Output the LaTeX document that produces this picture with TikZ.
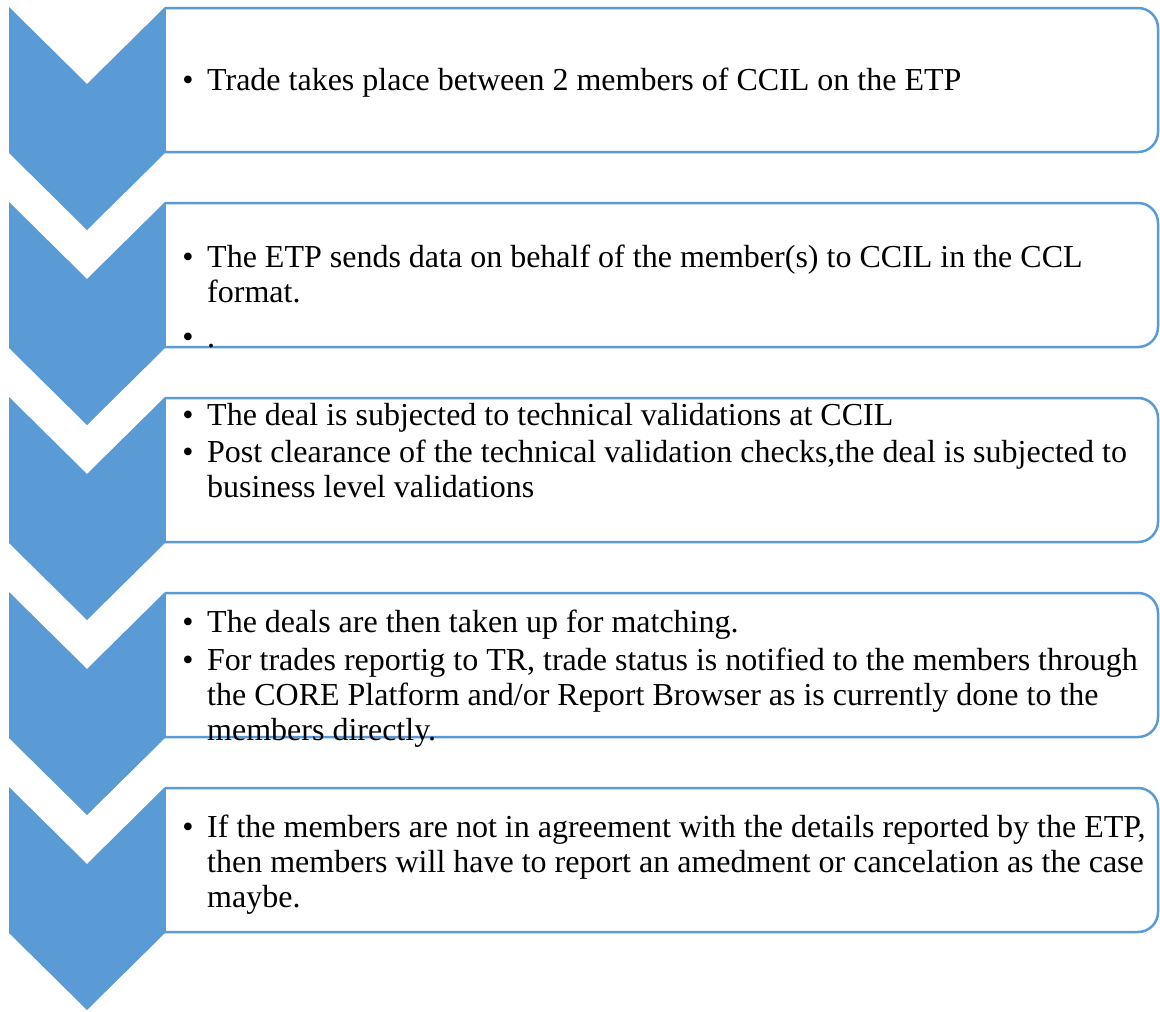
\documentclass[tikz,border=0pt]{standalone}
\usepackage{fontspec}
\setmainfont{Liberation Serif}
\definecolor{chevblue}{HTML}{5B9BD5}
\begin{document}
\begin{tikzpicture}[x=1pt,y=-1pt,
  chevron/.style={fill=chevblue,draw=none},
  boxline/.style={draw=chevblue,line width=2.5pt},
  txt/.style={anchor=base west,inner sep=0pt,font=\fontsize{32}{35}\selectfont},
  bul/.style={anchor=base,inner sep=0pt,font=\fontsize{32}{35}\selectfont}]
\useasboundingbox[fill=white] (0,0) rectangle (1160,1012);
% chevrons and boxes
\foreach \i in {0,...,4}{
  \pgfmathsetmacro{\T}{7+195*\i}
  \fill[chevron] (9,\T) -- (87,\T+77) -- (165,\T) -- (165,\T+146) -- (87,\T+223) -- (9,\T+146) -- cycle;
  \draw[boxline,rounded corners=20pt] (165,\T+145) -- (1158,\T+145) -- (1158,\T+1) -- (165,\T+1);
  \draw[boxline] (165,\T+1) -- (165,\T+145);
}
% box 1
\node[bul] (b1a) at (188,90) {•};
\node[txt] (t1a) at (207,90) {Trade takes place between 2 members of CCIL on the ETP};
% box 2
\node[bul] (b2a) at (188,267) {•};
\node[txt] (t2a) at (207,267) {The ETP sends data on behalf of the member(s) to CCIL in the CCL};
\node[txt] (t2b) at (207,302) {format.};
\node[bul] (b2b) at (188,347) {•};
\node[txt] (t2c) at (207,347) {.};
% box 3
\node[bul] (b3a) at (188,425) {•};
\node[txt] (t3a) at (207,425) {The deal is subjected to technical validations at CCIL};
\node[bul] (b3b) at (188,462) {•};
\node[txt] (t3b) at (207,462) {Post clearance of the technical validation checks,the deal is subjected to};
\node[txt] (t3c) at (207,497) {business level validations};
% box 4
\node[bul] (b4a) at (188,632) {•};
\node[txt] (t4a) at (207,632) {The deals are then taken up for matching.};
\node[bul] (b4b) at (188,670) {•};
\node[txt] (t4b) at (207,670) {For trades reportig to TR, trade status is notified to the members through};
\node[txt] (t4c) at (207,705) {the CORE Platform and/or Report Browser as is currently done to the};
\node[txt] (t4d) at (207,740) {members directly.};
% box 5
\node[bul] (b5a) at (188,837) {•};
\node[txt] (t5a) at (207,837) {If the members are not in agreement with the details reported by the ETP,};
\node[txt] (t5b) at (207,872) {then members will have to report an amedment or cancelation as the case};
\node[txt] (t5c) at (207,907) {maybe.};
\end{tikzpicture}
\end{document}
